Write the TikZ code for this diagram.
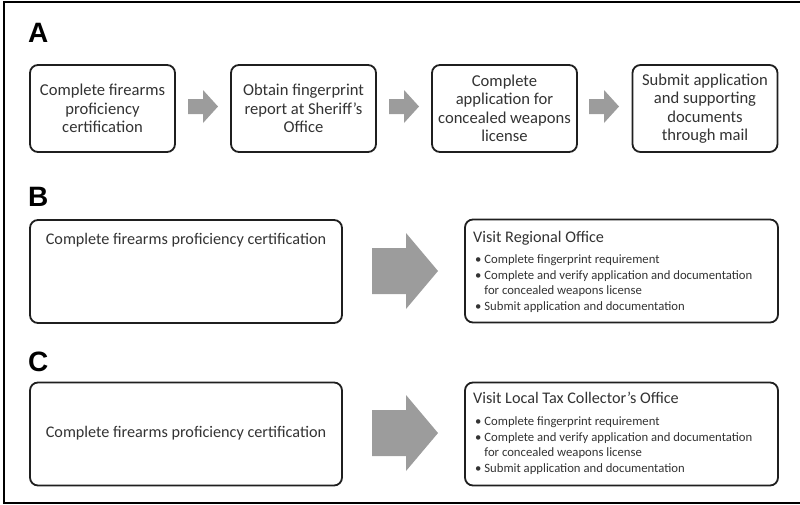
\documentclass[tikz,border=0pt]{standalone}
\usepackage{fontspec}
\setmainfont{Carlito}
\newfontfamily\labelfont{Liberation Sans}
\usetikzlibrary{calc}
\definecolor{txtgrey}{HTML}{333333}
\definecolor{arrowgrey}{HTML}{9C9C9C}
\tikzset{
  stepbox/.style={draw=black!88, line width=1.8pt, rounded corners=8pt, fill=white,
    inner sep=0pt, align=center, text=txtgrey},
  smallbox/.style={stepbox, minimum width=145pt, minimum height=87pt,
    font=\fontsize{16.6}{18.5}\selectfont},
  widebox/.style={stepbox, minimum width=312pt, minimum height=103pt},
  panellabel/.style={font=\labelfont\bfseries\fontsize{28}{28}\selectfont, anchor=base west, inner sep=0pt},
  bigtxt/.style={font=\fontsize{16.2}{17}\selectfont, text=txtgrey, inner sep=0pt},
  bullettxt/.style={font=\fontsize{12.7}{15.5}\selectfont, text=txtgrey, inner sep=0pt, align=left, anchor=north west},
  blockarrow/.style={fill=arrowgrey, draw=none}
}
\begin{document}
\begin{tikzpicture}[x=1pt,y=-1pt]
\useasboundingbox (0,0) rectangle (800,504);
% frame
\draw[line width=2pt] (805,2) -- (4,2) -- (4,503) -- (805,503);

% Panel A
\node[panellabel] (la) at (28,42) {A};
\node[smallbox] (a1) at (102.5,108.5) {Complete firearms\\proficiency\\certification};
\node[smallbox] (a2) at (303.5,108.5) {Obtain fingerprint\\report at Sheriff’s\\Office};
\node[smallbox] (a3) at (504.5,108.5) {Complete\\application for\\concealed weapons\\license};
\node[smallbox] (a4) at (705,108.5) {Submit application\\and supporting\\documents\\through mail};

\foreach \x in {188,389,589}{
  \fill[blockarrow] (\x,99) -- (\x+15,99) -- (\x+15,90) -- (\x+30,106.5) -- (\x+15,123) -- (\x+15,114) -- (\x,114) -- cycle;
}

% Panel B
\node[panellabel] (lb) at (28,206) {B};
\node[widebox] (b1) at (186,271.5) {};
\node[bigtxt, anchor=base] (b1t) at (186,244.5) {Complete firearms proficiency certification};
\fill[blockarrow] (372,248) -- (406,248) -- (406,233) -- (438,271) -- (406,309) -- (406,294) -- (372,294) -- cycle;
\node[widebox, minimum width=313pt] (b2) at (621.5,271) {};
\node[bigtxt, anchor=base west] (b2t) at (473,242) {Visit Regional Office};
\node[bullettxt] (b2l) at (475,254.5) {\textbullet\ Complete fingerprint requirement\\
\textbullet\ Complete and verify application and documentation\\
\phantom{\textbullet\ }for concealed weapons license\\
\textbullet\ Submit application and documentation};

% Panel C
\node[panellabel] (lc) at (28,371) {C};
\node[widebox] (c1) at (186,434) {};
\node[bigtxt, anchor=base] (c1t) at (186,437.5) {Complete firearms proficiency certification};
\fill[blockarrow] (372,410) -- (406,410) -- (406,395) -- (438,433) -- (406,471) -- (406,456) -- (372,456) -- cycle;
\node[widebox, minimum width=313pt] (c2) at (621.5,434) {};
\node[bigtxt, anchor=base west] (c2t) at (473,403) {Visit Local Tax Collector’s Office};
\node[bullettxt] (c2l) at (475,416.5) {\textbullet\ Complete fingerprint requirement\\
\textbullet\ Complete and verify application and documentation\\
\phantom{\textbullet\ }for concealed weapons license\\
\textbullet\ Submit application and documentation};
\end{tikzpicture}
\end{document}
